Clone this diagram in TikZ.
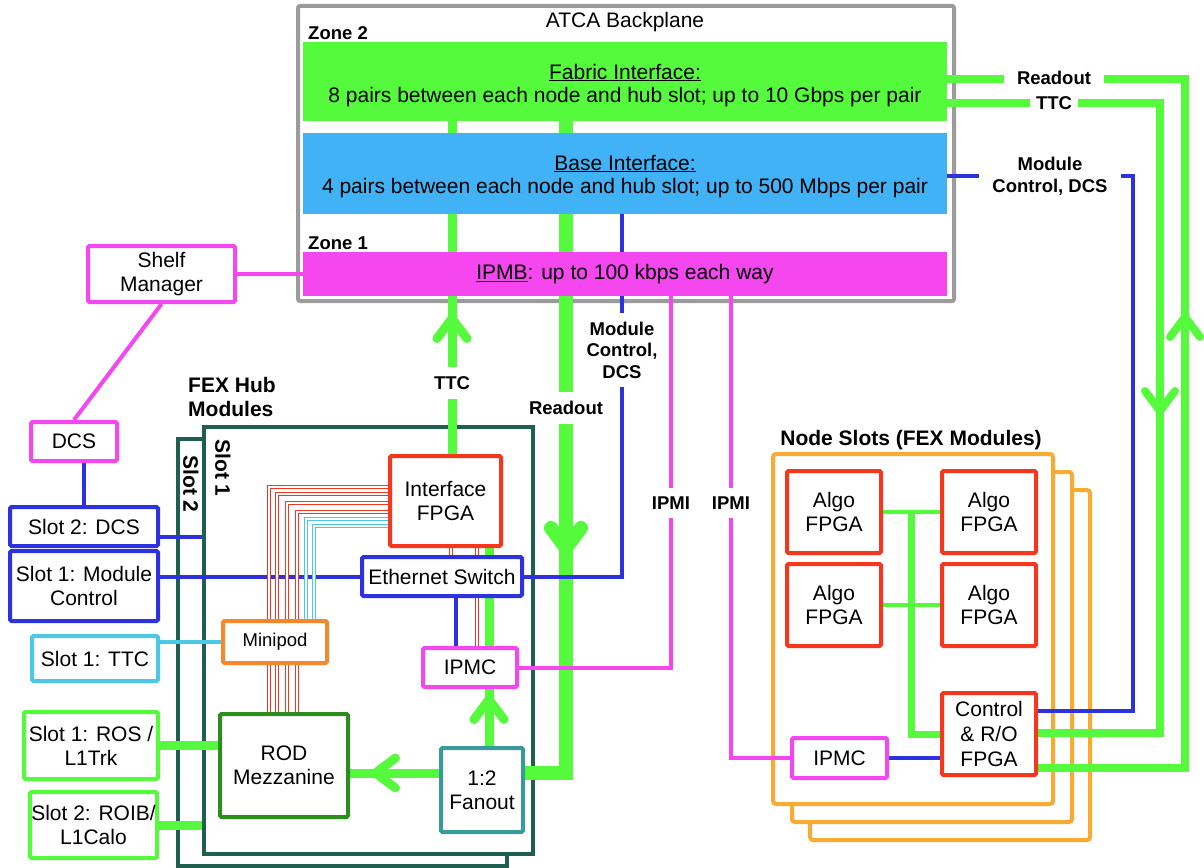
\documentclass[tikz,border=0pt]{standalone}
\usepackage{fontspec}
\setmainfont{Liberation Sans}
\usepackage{xcolor}
\usepackage{tikz}
\usetikzlibrary{arrows.meta,calc,decorations.markings}

\definecolor{fexgreen}{RGB}{85,250,60}
\definecolor{fexmag}{RGB}{245,70,240}
\definecolor{fexsky}{RGB}{64,178,245}
\definecolor{fexblue}{RGB}{45,50,225}
\definecolor{fexred}{RGB}{245,55,30}
\definecolor{fexorange}{RGB}{249,170,50}
\definecolor{podorange}{RGB}{247,135,45}
\definecolor{fexcyan}{RGB}{75,200,230}
\definecolor{hubteal}{RGB}{30,95,80}
\definecolor{rodgreen}{RGB}{45,140,30}
\definecolor{fanteal}{RGB}{55,155,155}
\definecolor{bpgray}{RGB}{155,155,155}

\newcommand\boxfont{\fontsize{21}{24}\selectfont}
\newcommand\bpfont{\fontsize{21}{23.5}\selectfont}
\newcommand\lblfont{\fontsize{18.5}{21.5}\selectfont\bfseries}
\newcommand\headfont{\fontsize{21}{24}\selectfont\bfseries}

\pgfdeclarelayer{back}
\pgfdeclarelayer{wires}
\pgfsetlayers{back,wires,main}

\begin{document}
\begin{tikzpicture}[
  x=1pt, y=-1pt,
  every node/.style={align=center},
  box/.style={draw, line width=4pt, fill=white, rounded corners=1.5pt,
              inner sep=2pt, font=\boxfont},
  band/.style={minimum width=644pt, inner sep=0pt, font=\bpfont},
  zonelbl/.style={anchor=west, inner sep=0pt, font=\lblfont},
  headlbl/.style={inner sep=0pt, font=\headfont},
  lbl/.style={fill=white, inner xsep=4pt, inner ysep=9pt, font=\lblfont},
  hubslot/.style={draw=hubteal, line width=4pt, fill=white,
                  minimum width=329pt, minimum height=427pt},
  nodeslot/.style={draw=fexorange, line width=4pt, fill=white, rounded corners=3pt,
                   minimum width=280pt, minimum height=350pt},
  wire/.style={draw=#1, line width=4pt},
  pairwire/.style={draw=#1, double=white, line width=1pt, double distance=1.4pt},
  gwire/.style={draw=fexgreen, line width=#1},
  gwire/.default=9pt,
  midarrow/.style={postaction={decorate, decoration={markings,
      mark=at position #1 with {\arrow{Straight Barb[length=20pt,width=30pt,round,color=fexgreen]}}}}},
]
\useasboundingbox (0,0) rectangle (1204,867);

% ===== BACKPLANE =====
\node[band, fill=fexgreen, minimum height=79pt] (fabric) at (625,81.5)
  {\rule{0pt}{23pt}\underline{Fabric Interface:}\\8 pairs between each node and hub slot; up to 10 Gbps per pair};
\node[band, fill=fexsky, minimum height=81pt] (base) at (625,173.5)
  {\rule{0pt}{21pt}\underline{Base Interface:}\\4 pairs between each node and hub slot; up to 500 Mbps per pair};
\node[band, fill=fexmag, minimum height=44pt] (ipmb) at (625,274)
  {\underline{IPMB}: up to 100 kbps each way};
\node[font=\bpfont, inner sep=0pt] (bptitle) at (625,22) {ATCA Backplane};
\node[zonelbl] (zone2) at (308,33) {Zone 2};
\node[zonelbl] (zone1) at (308,243) {Zone 1};

% ===== LEFT: shelf and external links =====
\node[box, draw=fexmag, minimum width=147pt, minimum height=56pt] (shelf) at (161.5,274) {Shelf\\Manager};
\node[box, draw=fexmag, minimum width=86pt, minimum height=39pt] (dcs) at (74,441.5) {DCS};
\node[box, draw=fexblue, minimum width=148pt, minimum height=39pt] (s2dcs) at (84,526.5) {Slot 2: DCS};
\node[box, draw=fexblue, minimum width=148pt, minimum height=70pt] (s1mc) at (84,586) {Slot 1: Module\\Control};
\node[box, draw=fexcyan, minimum width=126pt, minimum height=45pt] (s1ttc) at (95,658.5) {Slot 1: TTC};
\node[box, draw=fexgreen, minimum width=134pt, minimum height=67pt] (s1ros) at (91,745.5) {Slot 1: ROS /\\L1Trk};
\node[box, draw=fexgreen, minimum width=127pt, minimum height=66pt, inner xsep=1pt] (s2roib) at (93.5,825) {Slot 2: ROIB/\\L1Calo};

% ===== HUB MODULES =====
\node[headlbl, anchor=west, align=left] (hubtitle) at (188,397) {FEX Hub\\Modules};
\node[headlbl, rotate=-90] (slot1lbl) at (223,468) {Slot 1};
\node[headlbl, rotate=-90] (slot2lbl) at (191,484) {Slot 2};
\node[box, draw=fexred, minimum width=111pt, minimum height=90pt] (ifpga) at (445.5,501) {Interface\\FPGA};
\node[box, draw=fexblue, minimum width=160pt, minimum height=39pt] (eswitch) at (442,576.5) {Ethernet Switch};
\node[box, draw=podorange, minimum width=104pt, minimum height=42pt,
      font=\fontsize{18.5}{21}\selectfont] (minipod) at (275,642) {Minipod};
\node[box, draw=fexmag, minimum width=94pt, minimum height=39pt] (hipmc) at (470,667.5) {IPMC};
\node[box, draw=rodgreen, minimum width=128pt, minimum height=103pt] (rod) at (284,765.5) {ROD\\Mezzanine};
\node[box, draw=fanteal, minimum width=82pt, minimum height=84pt] (fanout) at (482,790) {1:2\\Fanout};

% ===== NODE SLOTS =====
\node[headlbl] (nodetitle) at (911,440) {Node Slots (FEX Modules)};
\node[box, draw=fexred, minimum width=94pt, minimum height=82pt] (algo1) at (834,512) {Algo\\FPGA};
\node[box, draw=fexred, minimum width=94pt, minimum height=82pt] (algo2) at (989,512) {Algo\\FPGA};
\node[box, draw=fexred, minimum width=94pt, minimum height=82pt] (algo3) at (834,605) {Algo\\FPGA};
\node[box, draw=fexred, minimum width=94pt, minimum height=82pt] (algo4) at (989,605) {Algo\\FPGA};
\node[box, draw=fexred, minimum width=94pt, minimum height=82pt,
      font=\fontsize{21}{25}\selectfont] (ctrl) at (989,734) {Control\\\& R/O\\FPGA};
\node[box, draw=fexmag, minimum width=95pt, minimum height=40pt] (nipmc) at (839.5,758) {IPMC};

% ===== LINK LABELS =====
\node[lbl] (ttcup) at (452,383) {TTC};
\node[lbl] (rodown) at (566,408) {Readout};
\node[lbl] (mcdcs) at (622,350) {Module\\Control,\\DCS};
\node[lbl] (ipmia) at (671,503) {IPMI};
\node[lbl] (ipmib) at (731,503) {IPMI};
\node[lbl, inner xsep=13pt, inner ysep=2pt] (roright) at (1054,78) {Readout};
\node[lbl, inner xsep=6.5pt, inner ysep=2pt] (ttcright) at (1054,103) {TTC};
\node[lbl, inner xsep=13.5pt, inner ysep=2pt] (mcright) at (1050,176) {Module\\Control, DCS};

\coordinate (robend) at (1185,79);
\coordinate (ttcbend) at (1160,103);
\coordinate (mcbend) at (1133,176);

% ===== frames behind everything =====
\begin{pgfonlayer}{back}
\node[draw=bpgray, line width=4pt, rounded corners=2pt,
      minimum width=656pt, minimum height=295pt] (atca) at (626,153.5) {};
\node[hubslot] (hub2) at (342.5,652) {};
\node[hubslot] (hub1) at (368.5,640.5) {};
\node[nodeslot] (ns3) at (950,665) {};
\node[nodeslot] (ns2) at (932,647) {};
\node[nodeslot] (ns1) at (913,629) {};
\end{pgfonlayer}

% ===== connectors =====
\begin{pgfonlayer}{wires}
\draw[wire=fexmag] (shelf.east) -- (shelf.east -| ipmb.west);
\draw[wire=fexmag] (shelf.south) -- (dcs.north);
\draw[wire=fexblue] (s2dcs.north) -- (s2dcs.north |- dcs.south);
\draw[wire=fexblue] ([yshift=-10pt]s2dcs.east) -- ([yshift=-10pt]s2dcs.east -| hub1.west);
\draw[wire=fexblue] (eswitch.west) -- (eswitch.west -| s1mc.east);
\draw[wire=fexcyan] (minipod.west) -- (minipod.west -| s1ttc.east);
\draw[gwire] (s1ros.east) -- (s1ros.east -| rod.west);
\draw[gwire] (s2roib.east) -- (s2roib.east -| hub1.west);

% fibre bundles
\foreach \dy/\dx/\col in {14/-6/fexred, 7/2/fexred, -2/12/fexred, -11/22/fexred,
                          -18/31/fexcyan, -25/39/fexcyan}
  \draw[pairwire=\col] ([yshift=\dy pt]ifpga.west) -| ([xshift=\dx pt]minipod.north);
\foreach \dx in {-6,2,12,22}
  \draw[pairwire=fexred] ([xshift=\dx pt]minipod.south) -- ([xshift=\dx pt]minipod.south |- rod.north);
\draw[pairwire=fexred] ([xshift=5.5pt]ifpga.south) -- ([xshift=5.5pt]ifpga.south |- eswitch.north);
\draw[pairwire=fexred] ([xshift=31.5pt]ifpga.south) -- ([xshift=31.5pt]ifpga.south |- hipmc.north);
\draw[wire=fexblue] ([xshift=14pt]eswitch.south) -- ([xshift=14pt]eswitch.south |- hipmc.north);

% hub TTC / readout
\draw[gwire, midarrow=51pt] ([xshift=7pt]fanout.north) -- ([xshift=7pt]fanout.north |- ifpga.south);
\draw[gwire, midarrow=68pt] ([yshift=17pt]fanout.west) -- ([yshift=17pt]fanout.west -| rod.east);
\draw[gwire, midarrow=140pt] ([xshift=6.5pt]ifpga.north) -- ([xshift=6.5pt]ifpga.north |- fabric.center);
\draw[gwire=14pt, midarrow=473.5pt] ([xshift=-59pt]fabric.center) |- ([yshift=17pt]fanout.east);
\draw[wire=fexblue] (eswitch.east) -| ([xshift=-3pt]base.center);
\draw[wire=fexmag] (hipmc.east) -| ([xshift=46pt]ipmb.center);
\draw[wire=fexmag] (nipmc.west) -| ([xshift=106pt]ipmb.center);

% node slot links
\draw[gwire=4.5pt] (algo1.east) -- (algo2.west);
\draw[gwire=4.5pt] (algo3.east) -- (algo4.west);
\draw[gwire=7pt] ($(algo1.east)!0.5!(algo2.west)$) |- (ctrl.west);
\draw[wire=fexblue] (nipmc.east) -- (nipmc.east -| ctrl.west);
\draw[wire=fexblue] ([yshift=23pt]ctrl.east) -| (mcbend) -- (mcbend -| base.center);
\draw[gwire=8pt, midarrow=847pt] (ttcbend -| fabric.center) -- (ttcbend) |- ([yshift=1pt]ctrl.east);
\draw[gwire=8pt, midarrow=602pt] ([yshift=-34pt]ctrl.east) -| (robend) -- (robend -| fabric.center);
\end{pgfonlayer}
\end{tikzpicture}
\end{document}
